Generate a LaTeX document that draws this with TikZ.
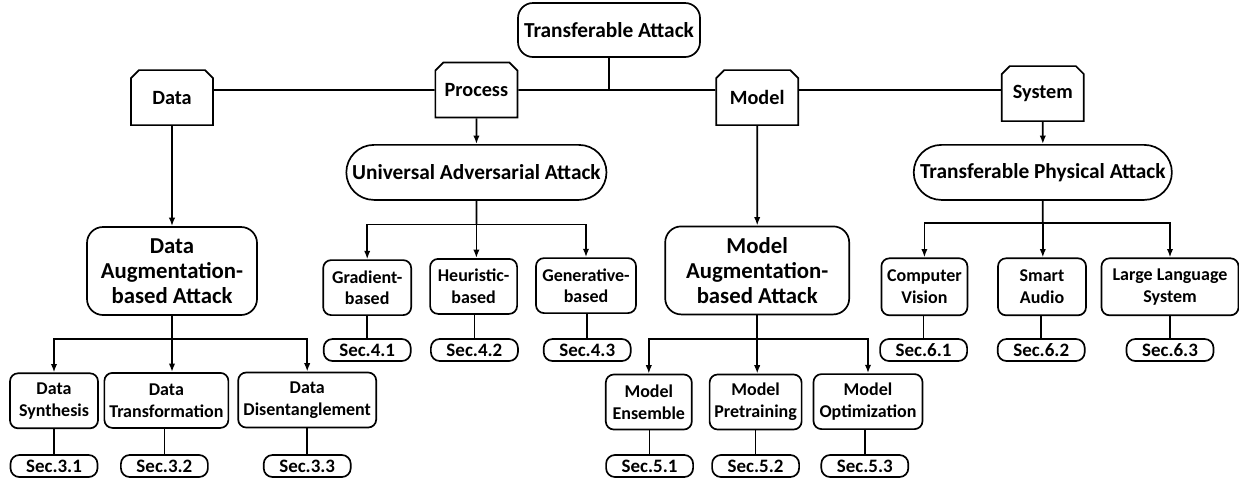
\documentclass[tikz,border=0pt]{standalone}
\usepackage{fontspec}
\setmainfont{Carlito}
\usetikzlibrary{shapes.misc,arrows.meta}

\tikzset{
  box/.style={draw, fill=white, rounded corners=0.2cm, align=center, line width=1.2pt,
    minimum height=1.375cm, inner sep=1pt, font=\fontsize{12.8}{15.4}\selectfont\bfseries},
  bigbox/.style={box, rounded corners=0.4cm, minimum height=2.2cm,
    font=\fontsize{16.2}{17.6}\selectfont\bfseries},
  pill/.style={draw, fill=white, rounded rectangle, line width=1.2pt, minimum width=6.45cm,
    minimum height=1.375cm, font=\fontsize{15.2}{18}\selectfont\bfseries},
  tag/.style={draw, fill=white, chamfered rectangle, chamfered rectangle corners={north west,north east},
    chamfered rectangle sep=0.1cm, line width=1.2pt, minimum width=2.05cm, minimum height=1.375cm,
    inner sep=0pt, font=\fontsize{14.4}{17}\selectfont\bfseries},
  secbox/.style={draw, fill=white, rounded corners=0.22cm, line width=1.2pt, minimum width=2.175cm,
    minimum height=0.55cm, inner sep=0pt, font=\fontsize{13.5}{15}\selectfont\bfseries},
  arr/.style={-{Latex[length=6pt,width=4.5pt]}, line width=1.2pt},
  conn/.style={line width=1.2pt}
}

\begin{document}
\begin{tikzpicture}
        \useasboundingbox (0,0) rectangle (30.975,-12);

        % Root and the four views
        \node[box, rounded corners=0.375cm, minimum width=4.55cm, minimum height=1.35cm,
              font=\fontsize{15.2}{18}\selectfont\bfseries] (root) at (15.225,-0.75) {Transferable Attack};

        \node[tag] (data) at (4.3,-2.44) {Data};
        \node[tag] (process) at (11.91,-2.25) {Process};
        \node[tag] (model) at (18.93,-2.44) {Model};
        \node[tag] (system) at (26.07,-2.34) {System};

        \draw[conn] (root) -- (root |- process);
        \draw[conn] (data.east |- process) -- (process);
        \draw[conn] (process) -- (model.west |- process);
        \draw[conn] (model.east |- process) -- (system.west |- process);

        % Second level
        \node[bigbox, minimum width=4.25cm] (dab) at (4.3,-6.775) {Data\\Augmentation-\\based Attack};
        \node[pill] (uaa) at (11.91,-4.31) {Universal Adversarial Attack};
        \node[bigbox, minimum width=4.6cm] (mab) at (18.93,-6.76) {Model\\Augmentation-\\based Attack};
        \node[pill] (tpa) at (26.07,-4.31) {Transferable Physical Attack};

        \draw[arr] (data) -- (dab);
        \draw[arr] (process) -- (uaa);
        \draw[arr] (model) -- (mab);
        \draw[arr] (system) -- (tpa);

        % Data branch
        \node[box, minimum width=2.2cm] (dsyn) at (1.35,-10.02) {Data\\Synthesis};
        \node[box, minimum width=3.1cm] (dtra) at (4.16,-10.01) {Data\\Transformation};
        \node[box, minimum width=3.45cm] (ddis) at (7.68,-10.0) {Data\\Disentanglement};
        \node[secbox] (s31) at (1.35,-11.65) {Sec.3.1};
        \node[secbox] (s32) at (4.11,-11.65) {Sec.3.2};
        \node[secbox] (s33) at (7.68,-11.65) {Sec.3.3};

        \coordinate (db) at (4.3,-8.48);
        \draw[conn] (dab) -- (db);
        \draw[arr] (db) -| (dsyn);
        \draw[arr] (db) -- (db |- dtra.north);
        \draw[arr] (db) -| (ddis);
        \draw[conn] (s31) -- (s31 |- dsyn.south);
        \draw[conn] (s32) -- (s32 |- dtra.south);
        \draw[conn] (s33) -- (s33 |- ddis.south);

        % Process branch
        \node[box, minimum width=2.2cm] (grad) at (9.18,-7.19) {Gradient-\\based};
        \node[box, minimum width=2.175cm] (heur) at (11.84,-7.16) {Heuristic-\\based};
        \node[box, minimum width=2.5cm] (gen) at (14.65,-7.14) {Generative-\\based};
        \node[secbox] (s41) at (9.18,-8.75) {Sec.4.1};
        \node[secbox] (s42) at (11.86,-8.75) {Sec.4.2};
        \node[secbox] (s43) at (14.68,-8.75) {Sec.4.3};

        \coordinate (pb) at (11.91,-5.61);
        \draw[conn] (uaa) -- (pb);
        \draw[arr] (pb) -| (grad);
        \draw[arr] (pb) -- (pb |- heur.north);
        \draw[arr] (pb) -| (gen);
        \draw[conn] (s41) -- (s41 |- grad.south);
        \draw[conn] (s42) -- (s42 |- heur.south);
        \draw[conn] (s43) -- (s43 |- gen.south);

        % Model branch
        \node[box, minimum width=2.15cm] (mens) at (16.22,-10.05) {Model\\Ensemble};
        \node[box, minimum width=2.3cm] (mpre) at (18.89,-10.05) {Model\\Pretraining};
        \node[box, minimum width=2.725cm] (mopt) at (21.7,-10.04) {Model\\Optimization};
        \node[secbox] (s51) at (16.24,-11.65) {Sec.5.1};
        \node[secbox] (s52) at (18.89,-11.65) {Sec.5.2};
        \node[secbox] (s53) at (21.62,-11.65) {Sec.5.3};

        \coordinate (mb) at (18.93,-8.48);
        \draw[conn] (mab) -- (mb);
        \draw[arr] (mb) -| (mens);
        \draw[arr] (mb) -- (mb |- mpre.north);
        \draw[arr] (mb) -| (mopt);
        \draw[conn] (s51) -- (s51 |- mens.south);
        \draw[conn] (s52) -- (s52 |- mpre.south);
        \draw[conn] (s53) -- (s53 |- mopt.south);

        % System branch
        \node[box, minimum width=2.15cm, minimum height=1.425cm] (cv) at (23.11,-7.17) {Computer\\Vision};
        \node[box, minimum width=2.2cm, minimum height=1.425cm] (sa) at (26.05,-7.17) {Smart\\Audio};
        \node[box, minimum width=3.425cm, minimum height=1.425cm] (lls) at (29.25,-7.17) {Large Language\\System};
        \node[secbox] (s61) at (23.09,-8.75) {Sec.6.1};
        \node[secbox] (s62) at (26.03,-8.75) {Sec.6.2};
        \node[secbox] (s63) at (29.25,-8.75) {Sec.6.3};

        \coordinate (sb) at (26.07,-5.57);
        \draw[conn] (tpa) -- (sb);
        \draw[arr] (sb) -| (cv);
        \draw[arr] (sb) -- (sb |- sa.north);
        \draw[arr] (sb) -| (lls);
        \draw[conn] (s61) -- (s61 |- cv.south);
        \draw[conn] (s62) -- (s62 |- sa.south);
        \draw[conn] (s63) -- (s63 |- lls.south);

\end{tikzpicture}
\end{document}
